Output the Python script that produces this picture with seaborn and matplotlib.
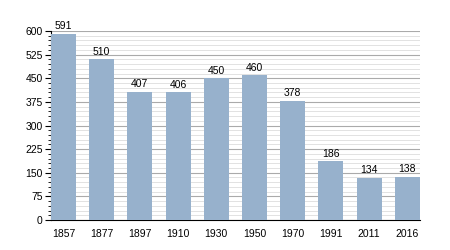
import matplotlib
matplotlib.use("Agg")
import matplotlib.pyplot as plt
import seaborn as sns
import pandas as pd
from matplotlib.ticker import MultipleLocator

years = ["1857", "1877", "1897", "1910", "1930", "1950", "1970", "1991", "2011", "2016"]
population = [591, 510, 407, 406, 450, 460, 378, 186, 134, 138]

sns.set_style("white")
plt.rcParams['font.family'] = ['Liberation Sans', 'DejaVu Sans']

df = pd.DataFrame({"year": years, "pop": population})
fig = plt.figure(figsize=(4.5, 2.5), dpi=100)
ax = fig.add_axes([0.113, 0.12, 0.82, 0.756])
w = 0.654
sns.barplot(data=df, x="year", y="pop", color="#97b1cc", saturation=1, width=w, ax=ax,
            zorder=3, edgecolor="none", linewidth=0)
ax.set_xlim(-w/2, len(years) - 1 + w/2)
ax.set_ylim(0, 600)
ax.yaxis.set_major_locator(MultipleLocator(75))
ax.yaxis.set_minor_locator(MultipleLocator(15))
ax.grid(which="major", axis="y", color="#aaaaaa", lw=0.8, zorder=0)
ax.grid(which="minor", axis="y", color="#dddddd", lw=0.6, zorder=0)
for s in ["top", "right"]:
    ax.spines[s].set_visible(False)
ax.spines["left"].set_color("black")
ax.spines["bottom"].set_color("black")
ax.spines["left"].set_linewidth(0.8)
ax.spines["bottom"].set_linewidth(0.8)
ax.tick_params(axis="y", which="major", left=True, length=4, width=0.8, color="black",
               labelsize=7.5, labelcolor="black", pad=2)
ax.tick_params(axis="y", which="minor", left=True, length=2, width=0.6, color="black")
ax.tick_params(axis="x", bottom=False, labelsize=7.5, labelcolor="black", pad=3)
ax.set_xlabel("")
ax.set_ylabel("")
for i, v in enumerate(population):
    ax.text(i, v + 8, str(v), ha="center", va="bottom", fontsize=7.5, color="black")
fig.savefig("out.png", dpi=100)
